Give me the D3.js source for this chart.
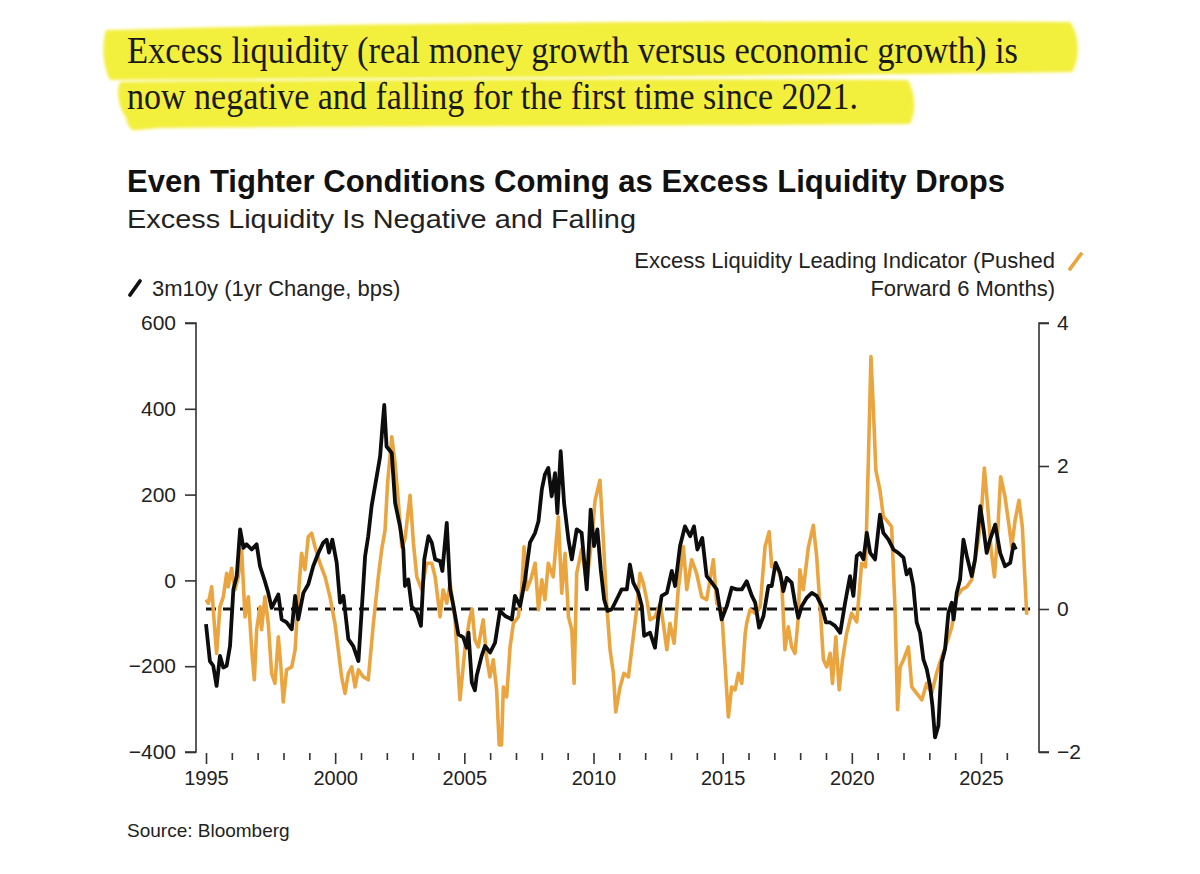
<!DOCTYPE html>
<html>
<head>
<meta charset="utf-8">
<script src="https://cdn.jsdelivr.net/npm/d3@7"></script>
<style>
  body { margin: 0; background: #fff; }
  svg { display: block; }
  text { font-family: "Liberation Sans", Arial, sans-serif; fill: #222; }
</style>
</head>
<body>
<svg id="chart" width="1200" height="874"></svg>
<script>
// 3m10y curve, 1yr change (bps) - left axis
var curveYears = [1995.00,1995.15,1995.28,1995.41,1995.54,1995.67,1995.80,1995.93,1996.06,1996.19,1996.32,1996.45,1996.57,1996.77,1996.96,
  1997.09,1997.28,1997.41,1997.54,1997.80,1997.93,1998.12,1998.32,1998.45,1998.57,1998.77,1998.96,1999.15,1999.35,1999.54,1999.67,1999.76,1999.89,
  2000.06,2000.19,2000.32,2000.51,2000.70,2000.90,2001.03,2001.16,2001.28,2001.41,2001.61,2001.74,2001.83,2001.90,2001.99,2002.19,2002.32,2002.51,
  2002.64,2002.70,2002.83,2002.96,2003.16,2003.32,2003.45,2003.61,2003.74,2003.87,2004.06,2004.15,2004.32,2004.45,2004.58,2004.77,2004.96,2005.09,
  2005.16,2005.29,2005.41,2005.48,2005.67,2005.80,2006.00,2006.19,2006.38,2006.58,2006.84,2006.96,2007.16,2007.35,2007.54,2007.74,2007.87,2008.00,
  2008.12,2008.25,2008.38,2008.51,2008.60,2008.73,2008.86,2009.03,2009.16,2009.35,2009.54,2009.74,2009.89,2010.02,2010.15,2010.28,2010.41,2010.54,
  2010.71,2010.90,2011.09,2011.29,2011.41,2011.54,2011.74,2011.87,2011.96,2012.19,2012.38,2012.51,2012.64,2012.84,2013.03,2013.16,2013.35,2013.54,
  2013.74,2013.89,2014.02,2014.21,2014.38,2014.58,2014.77,2014.96,2015.16,2015.35,2015.54,2015.74,2015.93,2016.13,2016.26,2016.41,2016.58,2016.77,
  2016.90,2017.05,2017.22,2017.35,2017.48,2017.67,2017.80,2017.93,2018.06,2018.26,2018.45,2018.64,2018.84,2019.00,2019.16,2019.35,2019.55,2019.74,
  2019.93,2020.06,2020.19,2020.32,2020.45,2020.58,2020.71,2020.90,2021.09,2021.22,2021.42,2021.61,2021.80,2022.00,2022.12,2022.25,2022.38,2022.51,
  2022.64,2022.77,2022.90,2023.03,2023.12,2023.22,2023.35,2023.48,2023.61,2023.74,2023.87,2023.94,2024.06,2024.19,2024.32,2024.45,2024.64,2024.77,
  2024.97,2025.10,2025.22,2025.35,2025.55,2025.74,2025.93,2026.13,2026.26,2026.35];
var curveVals = [-102,-188,-199,-246,-176,-203,-199,-153,-21,10,119,76,84,72,84,
  33,-2,-29,-64,-33,-91,-98,-114,-36,-91,-29,-9,33,64,88,95,65,95,
  41,-52,-36,-137,-153,-188,-67,57,103,173,243,289,359,409,312,297,181,126,
  72,-13,2,-60,-75,-106,49,103,88,49,45,22,134,-21,-60,-126,-133,-157,
  -122,-238,-256,-222,-176,-153,-168,-145,-71,-83,-91,-36,-60,2,88,111,138,212,
  247,262,196,250,157,301,181,95,49,119,111,-21,165,80,119,26,-44,-71,
  -67,-44,-21,-21,37,-5,-29,-60,-129,-122,-157,-83,-36,-29,22,-13,80,126,
  103,126,72,99,10,-5,-21,-91,-60,-17,-21,-21,-2,-36,-52,-110,-83,-13,
  -13,41,18,-25,6,-5,-52,-87,-60,-40,-29,-36,-60,-98,-98,-106,-122,-52,
  10,-36,57,64,49,111,64,49,153,111,95,72,64,53,14,26,-13,-98,
  -122,-184,-207,-246,-292,-366,-339,-191,-160,-75,-52,-91,-29,2,95,57,10,49,
  173,119,64,95,130,64,33,41,84,72];

// Excess liquidity leading indicator, pushed forward 6 months - right axis
var liqYears = [1995.00,1995.09,1995.22,1995.32,1995.41,1995.54,1995.67,1995.80,1995.86,1995.99,1996.12,1996.25,1996.38,1996.51,1996.64,1996.77,
  1996.87,1996.96,1997.09,1997.15,1997.28,1997.41,1997.54,1997.67,1997.80,1997.90,1997.99,1998.12,1998.32,1998.45,1998.57,1998.70,1998.83,1998.96,
  1999.09,1999.22,1999.41,1999.61,1999.80,1999.99,2000.12,2000.25,2000.38,2000.51,2000.64,2000.77,2000.90,2001.09,2001.28,2001.48,2001.67,2001.80,
  2001.93,2002.03,2002.19,2002.32,2002.45,2002.58,2002.70,2002.90,2003.03,2003.16,2003.35,2003.54,2003.74,2003.87,2004.06,2004.18,2004.32,2004.45,
  2004.64,2004.83,2005.03,2005.20,2005.30,2005.41,2005.54,2005.73,2005.86,2005.99,2006.12,2006.25,2006.35,2006.44,2006.51,2006.64,2006.77,2006.90,
  2007.09,2007.22,2007.31,2007.41,2007.57,2007.74,2007.87,2008.00,2008.12,2008.25,2008.44,2008.64,2008.77,2008.90,2009.03,2009.16,2009.25,2009.35,
  2009.54,2009.74,2009.93,2010.06,2010.25,2010.38,2010.51,2010.64,2010.77,2010.86,2011.03,2011.18,2011.35,2011.54,2011.67,2011.80,2011.93,2012.06,
  2012.19,2012.38,2012.58,2012.70,2012.84,2012.96,2013.12,2013.28,2013.48,2013.61,2013.80,2013.99,2014.19,2014.38,2014.64,2014.77,2014.96,2015.09,
  2015.22,2015.35,2015.48,2015.61,2015.74,2015.87,2015.93,2016.06,2016.26,2016.45,2016.64,2016.80,2016.90,2017.09,2017.28,2017.41,2017.54,2017.67,
  2017.80,2017.93,2017.99,2018.12,2018.32,2018.51,2018.64,2018.77,2018.90,2019.03,2019.16,2019.25,2019.38,2019.51,2019.64,2019.80,2019.99,2020.19,
  2020.38,2020.53,2020.66,2020.74,2020.83,2020.93,2021.09,2021.22,2021.35,2021.54,2021.67,2021.77,2021.87,2022.00,2022.19,2022.32,2022.51,2022.71,
  2022.90,2023.09,2023.28,2023.48,2023.67,2023.87,2024.06,2024.25,2024.45,2024.64,2024.77,2024.90,2025.03,2025.13,2025.26,2025.39,2025.52,2025.63,
  2025.76,2025.93,2026.09,2026.19,2026.32,2026.47,2026.60,2026.77];
var liqVals = [0.13,0.08,0.31,-0.20,-0.62,0.03,0.17,0.50,0.31,0.57,0.27,0.45,0.83,-0.11,0.17,-0.57,
  -0.99,-0.29,0.03,-0.29,0.17,-0.20,-0.90,-1.04,-0.39,-0.81,-1.30,-0.85,-0.81,-0.57,0.17,0.78,0.55,1.01,
  1.06,0.87,0.64,0.45,0.17,-0.20,-0.57,-0.95,-1.18,-0.90,-0.81,-1.09,-0.85,-0.95,-0.99,-0.20,0.45,0.83,
  1.10,1.76,2.41,2.04,1.48,0.87,0.97,1.59,0.92,0.45,0.27,0.64,0.64,0.45,-0.11,0.27,0.08,0.36,
  -0.15,-1.27,-0.53,-0.15,0.00,-0.43,-0.53,-0.15,-0.67,-0.95,-0.71,-1.13,-1.90,-1.90,-1.09,-1.23,-0.53,-0.20,
  -0.11,0.27,0.87,0.27,0.41,0.64,-0.01,0.41,0.13,0.64,0.45,1.29,0.22,0.78,-0.11,-0.29,-1.04,0.50,
  0.83,0.36,0.97,1.52,1.80,0.97,0.08,-0.57,-0.90,-1.44,-1.09,-0.90,-0.95,-0.39,-0.01,0.50,0.36,0.13,
  -0.15,-0.11,0.08,-0.20,-0.57,-0.20,-0.48,0.27,0.87,0.27,0.69,0.50,0.17,0.13,0.69,0.08,-0.01,-0.76,
  -1.51,-1.09,-1.13,-0.90,-1.04,-0.35,-0.20,-0.01,-0.06,0.03,0.87,1.08,0.59,0.59,0.41,-0.57,-0.25,-0.53,
  -0.62,-0.11,0.55,0.27,0.87,1.17,0.73,0.03,-0.71,-0.81,-0.62,-1.04,-0.39,-1.13,-0.71,-0.34,-0.06,-0.18,
  0.64,0.59,2.36,3.53,2.83,1.94,1.66,1.29,1.24,1.15,0.03,-1.41,-0.81,-0.71,-0.53,-1.09,-1.18,-1.27,
  -1.04,-1.18,-0.90,-0.67,-0.48,-0.25,0.17,0.27,0.31,0.41,0.69,0.97,1.43,1.97,1.43,0.83,0.45,0.97,
  1.85,1.57,1.15,0.87,1.24,1.52,1.15,-0.08];

var leftTicks = [-400, -200, 0, 200, 400, 600];
var rightTicks = [-2, 0, 2, 4];
var yearTicks = d3.range(1995, 2027);
var yearLabels = [1995, 2000, 2005, 2010, 2015, 2020, 2025];

var svg = d3.select("#chart");
var top_ = 323, bottom = 752, axisL = 196, axisR = 1039;

var x = d3.scaleLinear().domain([1995, 2025]).range([206, 981]);
var yL = d3.scaleLinear().domain([-400, 600]).range([bottom, top_]);
var yR = d3.scaleLinear().domain([-2, 4]).range([bottom, top_]);

// highlighter behind the intro text
var defs = svg.append("defs");
defs.append("filter").attr("id", "soft")
  .append("feGaussianBlur").attr("stdDeviation", 1.6);
var hl = svg.append("g").attr("filter", "url(#soft)").attr("fill", "#f3ef3c");
hl.append("path").attr("d", "M106,30 C300,24 700,20 1070,22 C1080,35 1080,60 1072,72 C800,76 400,78 110,80 C102,65 102,42 106,30 Z");
hl.append("path").attr("d", "M120,82 C350,80 650,78 908,80 C916,95 916,112 910,124 C700,126 400,126 160,128 L138,130 C132,132 128,128 126,118 C118,105 116,92 120,82 Z");

svg.append("text").attr("x", 127).attr("y", 63)
  .style("font-family", "'Liberation Serif', 'Times New Roman', serif")
  .style("font-size", "38px").style("fill", "#1a1a1a")
  .attr("textLength", 891).attr("lengthAdjust", "spacingAndGlyphs")
  .text("Excess liquidity (real money growth versus economic growth) is");
svg.append("text").attr("x", 127).attr("y", 109)
  .style("font-family", "'Liberation Serif', 'Times New Roman', serif")
  .style("font-size", "38px").style("fill", "#1a1a1a")
  .attr("textLength", 731).attr("lengthAdjust", "spacingAndGlyphs")
  .text("now negative and falling for the first time since 2021.");

// titles
svg.append("text").attr("x", 127).attr("y", 192)
  .style("font-size", "31px").style("font-weight", "bold").style("fill", "#111")
  .attr("textLength", 878).attr("lengthAdjust", "spacingAndGlyphs")
  .text("Even Tighter Conditions Coming as Excess Liquidity Drops");
svg.append("text").attr("x", 127).attr("y", 228)
  .style("font-size", "26px")
  .attr("textLength", 509).attr("lengthAdjust", "spacingAndGlyphs")
  .text("Excess Liquidity Is Negative and Falling");

// legend
svg.append("line").attr("x1", 130).attr("y1", 295).attr("x2", 140).attr("y2", 281)
  .attr("stroke", "#111").attr("stroke-width", 3.8).attr("stroke-linecap", "round");
svg.append("text").attr("x", 152).attr("y", 296).style("font-size", "22px")
  .text("3m10y (1yr Change, bps)");
svg.append("line").attr("x1", 1070).attr("y1", 269).attr("x2", 1081).attr("y2", 254)
  .attr("stroke", "#eaa540").attr("stroke-width", 3.8).attr("stroke-linecap", "round");
svg.append("text").attr("x", 1055).attr("y", 268).attr("text-anchor", "end").style("font-size", "22px")
  .text("Excess Liquidity Leading Indicator (Pushed");
svg.append("text").attr("x", 1055).attr("y", 296).attr("text-anchor", "end").style("font-size", "22px")
  .text("Forward 6 Months)");

// left axis
var gL = svg.append("g").attr("transform", "translate(" + axisL + ",0)")
  .call(d3.axisLeft(yL).tickValues(leftTicks).tickSize(11).tickPadding(9));
// right axis
var gR = svg.append("g").attr("transform", "translate(" + axisR + ",0)")
  .call(d3.axisRight(yR).tickValues(rightTicks).tickFormat(d3.format("d")).tickSize(10).tickPadding(8));
[gL, gR].forEach(function (g) {
  g.select(".domain").attr("stroke", "#333").attr("stroke-width", 1.6)
    .attr("d", g === gL ? "M-11," + top_ + "H0V" + bottom + "H-11" : "M10," + top_ + "H0V" + bottom + "H10");
  g.selectAll(".tick line").attr("stroke", "#333").attr("stroke-width", 1.6);
  g.selectAll(".tick text").style("font-size", "21px").style("fill", "#222")
    .style("font-family", "'Liberation Sans', Arial, sans-serif");
});

// x axis: yearly ticks, labels every 5 years
var gX = svg.append("g").attr("transform", "translate(0," + (bottom + 1) + ")")
  .call(d3.axisBottom(x).tickValues(yearTicks).tickSize(7)
    .tickFormat(function (d) { return yearLabels.indexOf(d) >= 0 ? d : ""; }));
gX.select(".domain").remove();
gX.selectAll(".tick line").attr("stroke", "#333").attr("stroke-width", 1.6)
  .attr("y2", function (d) { return yearLabels.indexOf(d) >= 0 ? 11 : 7; });
gX.selectAll(".tick text").attr("y", 18).style("font-size", "20px").style("fill", "#222")
  .style("font-family", "'Liberation Sans', Arial, sans-serif");

// zero line of the indicator
svg.append("line")
  .attr("x1", x(1995)).attr("x2", x(2026.9))
  .attr("y1", yR(0)).attr("y2", yR(0))
  .attr("stroke", "#111").attr("stroke-width", 2.8).attr("stroke-dasharray", "10,7");

var liqData = liqYears.map(function (t, i) { return [t, liqVals[i]]; });
var curveData = curveYears.map(function (t, i) { return [t, curveVals[i]]; });

svg.append("path").datum(liqData)
  .attr("fill", "none").attr("stroke", "#eaa540").attr("stroke-width", 3.6)
  .attr("stroke-linejoin", "round")
  .attr("d", d3.line().x(function (d) { return x(d[0]); }).y(function (d) { return yR(d[1]); }));

svg.append("path").datum(curveData)
  .attr("fill", "none").attr("stroke", "#0d0d0d").attr("stroke-width", 3.8)
  .attr("stroke-linejoin", "round")
  .attr("d", d3.line().x(function (d) { return x(d[0]); }).y(function (d) { return yL(d[1]); }));

svg.append("text").attr("x", 127).attr("y", 837).style("font-size", "19px")
  .text("Source: Bloomberg");
</script>
</body>
</html>
